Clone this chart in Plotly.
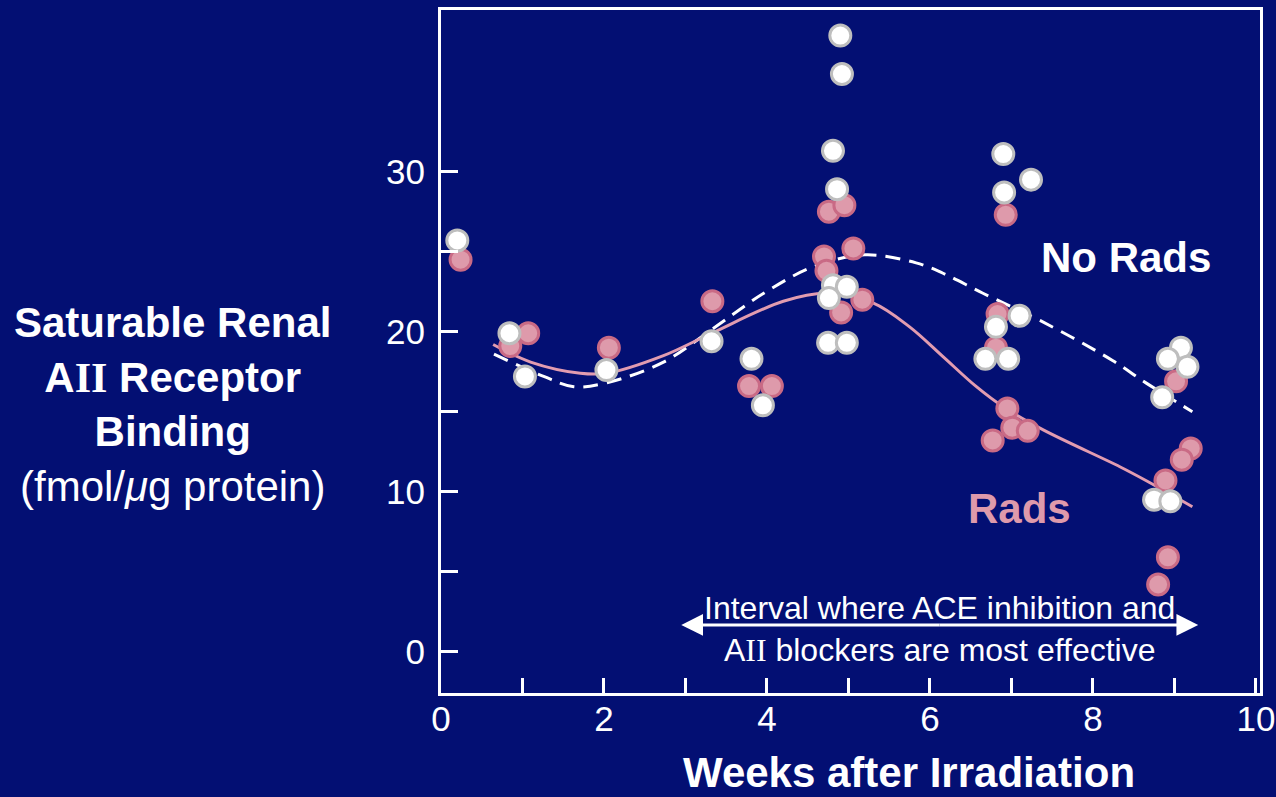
import plotly.graph_objects as go

# ---- data ----
no_rads_x = [0.20, 0.84, 1.03, 2.03, 3.32, 3.81, 3.95, 4.90, 4.92, 4.81, 4.86, 4.81, 4.98, 4.76, 4.75, 4.98,
             6.90, 7.24, 6.91, 7.10, 6.81, 6.68, 6.96, 9.08, 8.92, 9.16, 8.85, 8.75, 8.95]
no_rads_y = [25.7, 19.9, 17.2, 17.6, 19.4, 18.3, 15.4, 38.5, 36.1, 31.3, 28.9, 22.9, 22.8, 22.1, 19.3, 19.3,
             31.1, 29.5, 28.7, 21.0, 20.3, 18.3, 18.3, 19.0, 18.3, 17.8, 15.9, 9.5, 9.4]

rads_x = [0.24, 0.85, 1.07, 2.06, 3.33, 3.78, 4.06, 4.76, 4.95, 4.70, 4.73, 5.06, 4.91, 5.17,
          6.93, 6.83, 6.81, 6.95, 7.01, 7.20, 6.77, 9.02, 9.20, 9.09, 8.89, 8.92, 8.80]
rads_y = [24.5, 19.1, 19.9, 19.0, 21.9, 16.6, 16.6, 27.5, 27.9, 24.7, 23.8, 25.2, 21.2, 22.0,
          27.3, 21.1, 19.0, 15.2, 14.0, 13.8, 13.2, 16.9, 12.7, 12.0, 10.7, 5.9, 4.2]

rads_fit_x = [0.64, 1.10, 1.71, 2.03, 2.73, 3.32, 4.20, 4.73, 5.30, 5.75, 6.16, 6.57, 6.90, 7.39, 8.33, 8.65, 9.22]
rads_fit_y = [19.2, 18.1, 17.4, 17.4, 18.5, 19.9, 21.9, 22.4, 21.8, 20.3, 18.44, 16.56, 15.3, 13.86, 11.56, 10.7, 9.06]

no_rads_fit_x = [0.65, 1.26, 1.63, 2.03, 2.73, 3.34, 3.96, 4.57, 5.20, 5.83, 6.16, 6.65, 7.35, 8.24, 8.65, 9.22]
no_rads_fit_y = [18.6, 17.2, 16.56, 16.8, 18.1, 20.2, 22.4, 24.06, 24.8, 24.3, 23.65, 22.4, 20.7, 18.2, 16.8, 15.0]

interval = [2.93, 9.31]
interval_level = 1.67

x_ticks = [0, 2, 4, 6, 8, 10]
x_minor = [1, 3, 5, 7, 9]
y_ticks = [0, 10, 20, 30]
y_minor = [5, 15, 25]

BG = "#030F73"
PINK_FILL = "#DE9AAB"
PINK_EDGE = "#C96A85"
PINK_LINE = "#E29CB0"
FONT = "Liberation Sans, Arial, sans-serif"

fig = go.Figure()

fig.add_trace(go.Scatter(x=no_rads_fit_x, y=no_rads_fit_y, mode="lines",
                         line=dict(color="white", width=3, dash="15px,9px", shape="spline", smoothing=1.0),
                         hoverinfo="skip", showlegend=False))
fig.add_trace(go.Scatter(x=rads_fit_x, y=rads_fit_y, mode="lines",
                         line=dict(color=PINK_LINE, width=3, shape="spline", smoothing=1.0),
                         hoverinfo="skip", showlegend=False))
fig.add_trace(go.Scatter(x=rads_x, y=rads_y, mode="markers",
                         marker=dict(size=21, color=PINK_FILL, line=dict(color=PINK_EDGE, width=3)),
                         showlegend=False))
fig.add_trace(go.Scatter(x=no_rads_x, y=no_rads_y, mode="markers",
                         marker=dict(size=21, color="white", line=dict(color="#BEBEBE", width=3)),
                         showlegend=False))

# interval double arrow: two halves, each with its head at the outer end
mid = (interval[0] + interval[1]) / 2
for end in interval:
    fig.add_annotation(x=mid, y=interval_level, ax=end, ay=interval_level,
                       xref="x", yref="y", axref="x", ayref="y", text="", showarrow=True,
                       arrowhead=0, startarrowhead=2, arrowside="start",
                       startarrowsize=1.45, arrowwidth=3, arrowcolor="white",
                       standoff=0, startstandoff=0)

fig.add_annotation(x=6.12, y=1.43, xref="x", yref="y", showarrow=False,
                   text="Interval where ACE inhibition and<br>A<span style='font-family:Liberation Serif'>II</span> blockers are most effective",
                   font=dict(family=FONT, size=32, color="white"), align="center",
                   xanchor="center", yanchor="middle")

fig.add_annotation(x=8.41, y=24.66, xref="x", yref="y", showarrow=False,
                   text="<b>No Rads</b>", font=dict(family=FONT, size=42, color="white"),
                   xanchor="center", yanchor="middle")
fig.add_annotation(x=7.10, y=8.98, xref="x", yref="y", showarrow=False,
                   text="<b>Rads</b>", font=dict(family=FONT, size=42, color=PINK_FILL),
                   xanchor="center", yanchor="middle")

# axis titles
fig.add_annotation(x=-0.3284, y=0.4217, xref="paper", yref="paper", showarrow=False,
                   text="<b>Saturable Renal</b><br><b>A<span style='font-family:Liberation Serif'>II</span> Receptor</b><br><b>Binding</b><br>(fmol/<i>μ</i>g protein)",
                   font=dict(family=FONT, size=42, color="white"), align="center",
                   xanchor="center", yanchor="middle")
fig.add_annotation(x=0.5714, y=-0.1171, xref="paper", yref="paper", showarrow=False,
                   text="<b>Weeks after Irradiation</b>",
                   font=dict(family=FONT, size=42, color="white"),
                   xanchor="center", yanchor="middle")

axis_common = dict(showline=True, linecolor="white", linewidth=3, mirror=True,
                   ticks="inside", tickcolor="white", tickwidth=2.5,
                   showgrid=False, zeroline=False, automargin=False,
                   ticklabeloverflow="allow",
                   tickfont=dict(family=FONT, size=35, color="white"))

fig.update_xaxes(range=[0, 10.05], tickvals=x_ticks, ticklen=15,
                 minor=dict(tickvals=x_minor, ticks="inside", ticklen=15, tickwidth=2.5, tickcolor="white"),
                 ticklabelstandoff=-7, **axis_common)
fig.update_yaxes(range=[-2.58, 40.1], tickvals=y_ticks, ticklen=17,
                 minor=dict(tickvals=y_minor, ticks="inside", ticklen=17, tickwidth=2.5, tickcolor="white"),
                 ticklabelstandoff=6, **axis_common)

fig.update_layout(width=1276, height=797, paper_bgcolor=BG, plot_bgcolor=BG,
                  margin=dict(l=441, r=16, t=10, b=104, autoexpand=False), showlegend=False)

fig.write_html("out.html", config={"displayModeBar": False},
               post_script="document.body.style.margin='0';document.body.style.overflow='hidden';"
                           "document.body.style.background='" + BG + "';")
